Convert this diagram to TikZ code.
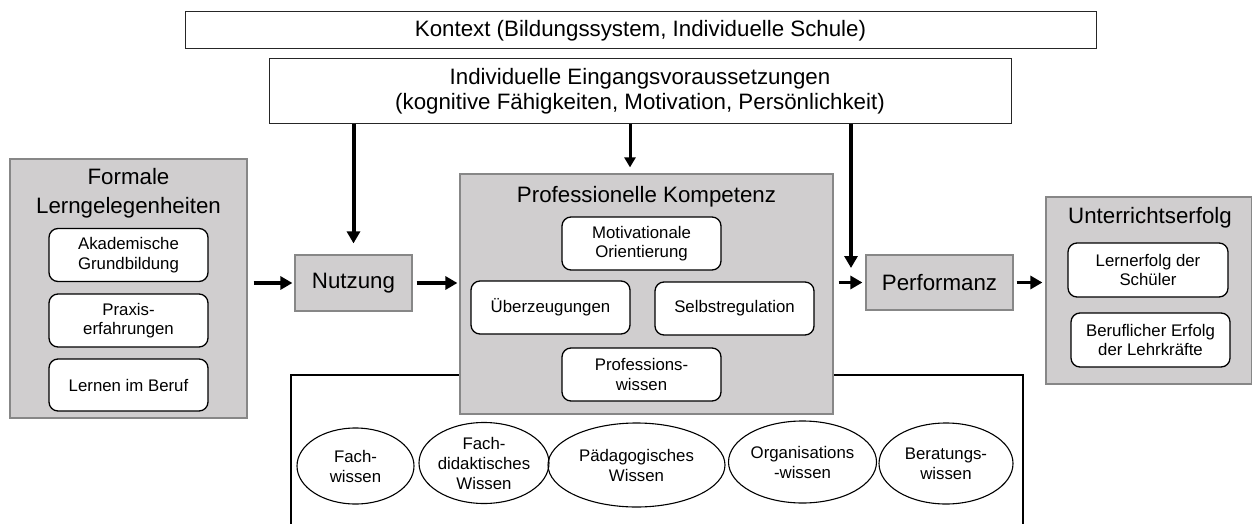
\documentclass[tikz,border=0pt]{standalone}
\usepackage{fontspec}
\setmainfont{Liberation Sans}
\usetikzlibrary{arrows.meta,shapes.geometric}
\definecolor{boxgray}{RGB}{208,206,207}
\definecolor{edgegray}{RGB}{135,135,135}
\begin{document}
\begin{tikzpicture}[x=1pt,y=-1pt,
 titlefont/.style={font=\fontsize{22.3}{25}\selectfont},
 smallfont/.style={font=\fontsize{16.8}{19.5}\selectfont},
 whitebox/.style={draw=black!85, line width=1pt, fill=white, inner sep=0pt, align=center, titlefont},
 graybox/.style={draw=edgegray, line width=1.2pt, fill=boxgray, inner sep=0pt},
 itembox/.style={draw=black, line width=1.3pt, rounded corners=9pt, fill=white, inner sep=0pt, align=center, smallfont, minimum width=159pt, minimum height=53pt},
 know/.style={draw=black, line width=1.1pt, ellipse, inner sep=0pt},
 knowtext/.style={align=center, font=\fontsize{16.8}{20}\selectfont},
 arr/.style={line width=4pt, -{Triangle[length=12pt,width=13pt]}},
 thinarr/.style={line width=3pt, -{Triangle[length=10pt,width=11pt]}},
]
\path[use as bounding box, clip] (0,0) rectangle (1252,524);
\fill[white] (0,0) rectangle (1252,524);

% top boxes
\node[whitebox, minimum width=911pt, minimum height=37pt] (kontext) at (640.5,30.5)
  {Kontext (Bildungssystem, Individuelle Schule)};
\node[whitebox, minimum width=742pt, minimum height=65pt] (eing) at (640,91.5)
  {Individuelle Eingangsvoraussetzungen\\(kognitive Fähigkeiten, Motivation, Persönlichkeit)};

% knowledge frame (behind)
\node[draw=black, line width=1.1pt, inner sep=0pt, minimum width=732pt, minimum height=170pt] (wbox) at (657,460) {};

% left group
\node[graybox, minimum width=237pt, minimum height=259pt] (form) at (128.5,288.5) {};
\node[titlefont, align=center, font=\fontsize{22.3}{28.5}\selectfont] (formt) at (128.5,193) {Formale\\Lerngelegenheiten};
\node[itembox] (akad) at (128.5,255) {Akademische\\Grundbildung};
\node[itembox] (prax) at (128.5,320.5) {Praxis-\\erfahrungen};
\node[itembox, minimum height=52pt] (lern) at (128.5,385) {Lernen im Beruf};

% Nutzung
\node[graybox, titlefont, minimum width=117pt, minimum height=56pt] (nutz) at (353.5,283) {Nutzung};

% Professionelle Kompetenz
\node[graybox, minimum width=373pt, minimum height=240pt] (prof) at (646.5,294) {};
\node[titlefont] (proft) at (646.5,197) {Professionelle Kompetenz};
\node[itembox] (motiv) at (641.5,243.5) {Motivationale\\Orientierung};
\node[itembox] (ueberz) at (550.5,307.5) {Überzeugungen};
\node[itembox] (selbst) at (734.5,308.5) {Selbstregulation};
\node[itembox] (profw) at (641.5,374.5) {Professions-\\wissen};

% Performanz
\node[graybox, titlefont, minimum width=147pt, minimum height=55pt] (perf) at (939.5,282.5) {Performanz};

% Unterrichtserfolg
\node[graybox, minimum width=206pt, minimum height=187pt] (unter) at (1149,290.5) {};
\node[titlefont] (untert) at (1150,218) {Unterrichtserfolg};
\node[itembox, minimum width=160pt, minimum height=54pt] (lernerf) at (1148,270) {Lernerfolg der\\Schüler};
\node[itembox, minimum height=54pt] (beruf) at (1150.5,340) {Beruflicher Erfolg\\der Lehrkräfte};

% knowledge ellipses
\node[know, minimum width=117pt, minimum height=76pt, label={[knowtext]center:{Fach-\\wissen}}] (fw) at (355.5,466) {};
\node[know, minimum width=130pt, minimum height=81pt, label={[knowtext]center:{Fach-\\didaktisches\\Wissen}}] (fdw) at (484,463) {};
\node[know, minimum width=177pt, minimum height=84pt, label={[knowtext]center:{Pädagogisches\\Wissen}}] (pw) at (636.5,465) {};
\node[know, minimum width=148pt, minimum height=82pt, label={[knowtext]center:{Organisations\\-wissen}}] (ow) at (802.5,462) {};
\node[know, minimum width=134pt, minimum height=81pt, label={[knowtext]center:{Beratungs-\\wissen}}] (bw) at (946,463.5) {};

% arrows
\coordinate (c1) at (630,0);
\coordinate (c3) at (851,268);
\draw[arr, shorten >=11pt] (eing.south -| nutz.north) -- (nutz.north);
\draw[thinarr, shorten >=6pt] (eing.south -| c1) -- (prof.north -| c1);
\draw[arr] (eing.south -| c3) -- (c3);
\draw[arr, shorten <=6pt, shorten >=2pt] (form.east |- nutz.west) -- (nutz.west);
\draw[arr, shorten <=4pt, shorten >=2pt] (nutz.east) -- (prof.west |- nutz.east);
\draw[arr, line width=3.5pt, shorten <=5pt, shorten >=3pt] (prof.east |- perf.west) -- (perf.west);
\draw[arr, line width=3.5pt, shorten <=3pt, shorten >=3pt] (perf.east) -- (unter.west |- perf.east);
\end{tikzpicture}
\end{document}
